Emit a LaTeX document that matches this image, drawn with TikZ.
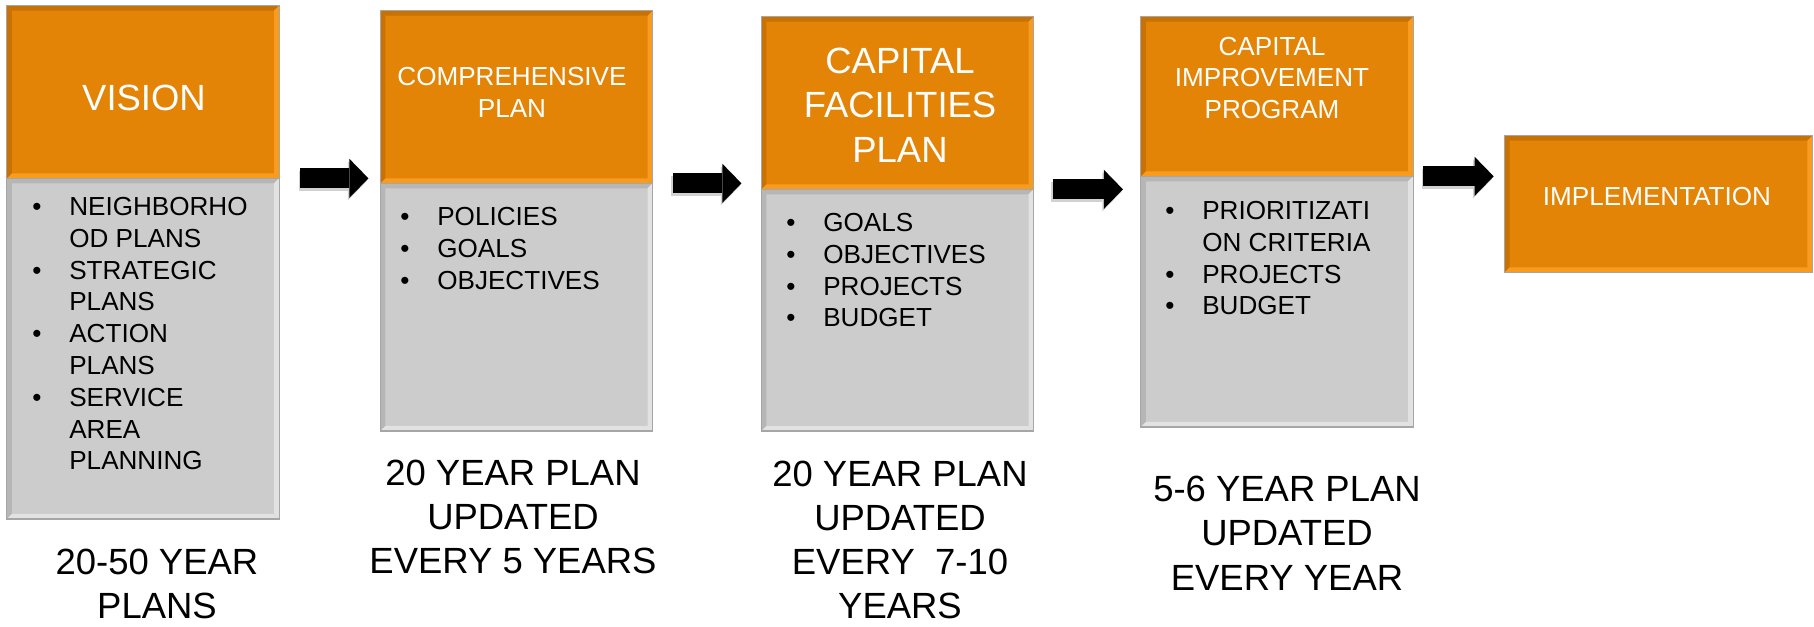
\documentclass[tikz,border=0pt]{standalone}
\usepackage{fontspec}
\setmainfont{Liberation Sans}
\usetikzlibrary{positioning,arrows.meta}

\definecolor{planorange}{RGB}{227,132,6}
\definecolor{orangedark}{RGB}{200,113,4}
\definecolor{orangelight}{RGB}{248,156,32}
\definecolor{plangray}{RGB}{204,204,204}
\definecolor{graydark}{RGB}{182,182,182}
\definecolor{graylight}{RGB}{226,226,226}
\definecolor{edgegray}{RGB}{166,166,166}

\newcommand\smallsize{\fontsize{14.85pt}{18.1pt}\selectfont}
\newcommand\bigsize{\fontsize{20.75pt}{25.2pt}\selectfont}
% bullet and continuation columns of the lists
\newcommand\li{\makebox[0.74cm][l]{\textbullet}}
\newcommand\lc{\makebox[0.74cm][l]{}}

% bevelled rim inside a box: node, dark colour, light colour
\newcommand\bevel[3]{%
  \fill[#2] (#1.north west) -- (#1.north east) -- ([shift={(-5,5)}]#1.north east)
    -- ([shift={(5,5)}]#1.north west) -- cycle;
  \fill[#2] (#1.north west) -- ([shift={(5,5)}]#1.north west)
    -- ([shift={(5,-5)}]#1.south west) -- (#1.south west) -- cycle;
  \fill[#3] (#1.north east) -- ([shift={(-5,5)}]#1.north east)
    -- ([shift={(-5,-5)}]#1.south east) -- (#1.south east) -- cycle;
  \fill[#3] (#1.south west) -- ([shift={(5,-5)}]#1.south west)
    -- ([shift={(-5,-5)}]#1.south east) -- (#1.south east) -- cycle;
  \draw[edgegray, line width=0.6pt] (#1.north west) rectangle (#1.south east);
}

\begin{document}
\begin{tikzpicture}[x=0.02cm, y=-0.02cm,
    head/.style={rectangle, fill=planorange, minimum width=5.43cm, inner sep=0pt},
    body/.style={rectangle, fill=plangray, minimum width=5.43cm, inner sep=0pt},
    title/.style={text=white, align=center, inner sep=0pt},
    list/.style={anchor=base west, inner sep=0pt, font=\smallsize},
    span/.style={align=center, inner sep=0pt, font=\bigsize},
    flow/.style={line width=0.4cm, -{Triangle[length=0.38cm, width=0.78cm, line width=0pt]}},
    flowshadow/.style={flow, black, opacity=0.18, transform canvas={shift={(-0.03cm,-0.05cm)}}}]
    \useasboundingbox (0,0) rectangle (1814,626);

    % stage boxes
    \node[head, minimum height=3.44cm] (vision) at (143,92) {};
    \node[body, minimum height=6.8cm, below=0pt of vision] (vision-list) {};
    \node[head, minimum height=3.44cm] (compplan) at (516.5,97) {};
    \node[body, minimum height=4.94cm, below=0pt of compplan] (compplan-list) {};
    \node[head, minimum height=3.44cm] (facilities) at (897.5,103) {};
    \node[body, minimum height=4.82cm, below=0pt of facilities] (facilities-list) {};
    \node[head, minimum height=3.18cm] (cip) at (1277,96.5) {};
    \node[body, minimum height=5cm, below=0pt of cip] (cip-list) {};
    \node[head, minimum width=6.14cm, minimum height=2.72cm] (implement) at (1658.5,204) {};

    \foreach \n in {vision,compplan,facilities,cip,implement}
        \bevel{\n}{orangedark}{orangelight};
    \foreach \n in {vision-list,compplan-list,facilities-list,cip-list}
        \bevel{\n}{graydark}{graylight};

    % titles
    \node[title, font=\bigsize] (vision-title) at (144,98) {VISION};
    \node[title, font=\smallsize] (compplan-title) at (512,92) {COMPREHENSIVE\\PLAN};
    \node[title, font=\bigsize] (facilities-title) at (900,105) {CAPITAL\\FACILITIES\\PLAN};
    \node[title, font=\smallsize] (cip-title) at (1272,78) {CAPITAL\\IMPROVEMENT\\PROGRAM};
    \node[title, font=\smallsize] (implement-title) at (1657,197) {IMPLEMENTATION};

    % contents
    \node[list] (vision-items) at (32,215.4) {\begin{tabular}[t]{@{}l@{}}
        \li NEIGHBORHO\\ \lc OD PLANS\\ \li STRATEGIC\\ \lc PLANS\\
        \li ACTION\\ \lc PLANS\\ \li SERVICE\\ \lc AREA\\ \lc PLANNING
        \end{tabular}};
    \node[list] (compplan-items) at (400,225.4) {\begin{tabular}[t]{@{}l@{}}
        \li POLICIES\\ \li GOALS\\ \li OBJECTIVES
        \end{tabular}};
    \node[list] (facilities-items) at (786,231.4) {\begin{tabular}[t]{@{}l@{}}
        \li GOALS\\ \li OBJECTIVES\\ \li PROJECTS\\ \li BUDGET
        \end{tabular}};
    \node[list] (cip-items) at (1165,219.4) {\begin{tabular}[t]{@{}l@{}}
        \li PRIORITIZATI\\ \lc ON CRITERIA\\ \li PROJECTS\\ \li BUDGET
        \end{tabular}};

    % time spans
    \node[span] (vision-span) at (157,584) {20-50 YEAR\\PLANS};
    \node[span] (compplan-span) at (513,517) {20 YEAR PLAN\\UPDATED\\EVERY 5 YEARS};
    \node[span] (facilities-span) at (900,540) {20 YEAR PLAN\\UPDATED\\EVERY \ 7-10\\YEARS};
    \node[span] (cip-span) at (1287,533) {5-6 YEAR PLAN\\UPDATED\\EVERY YEAR};

    % arrows between stages
    \foreach \a/\b/\s/\e in {vision/compplan/0.42/0.24, compplan/facilities/0.40/0.40,
                             facilities/cip/0.38/0.36, cip/implement/0.20/0.22} {
        \draw[flowshadow, shorten <=\s cm, shorten >=\e cm] (\a.south east) -- (\a.south east -| \b.west);
        \draw[flow, shorten <=\s cm, shorten >=\e cm] (\a.south east) -- (\a.south east -| \b.west);
    }
\end{tikzpicture}
\end{document}
